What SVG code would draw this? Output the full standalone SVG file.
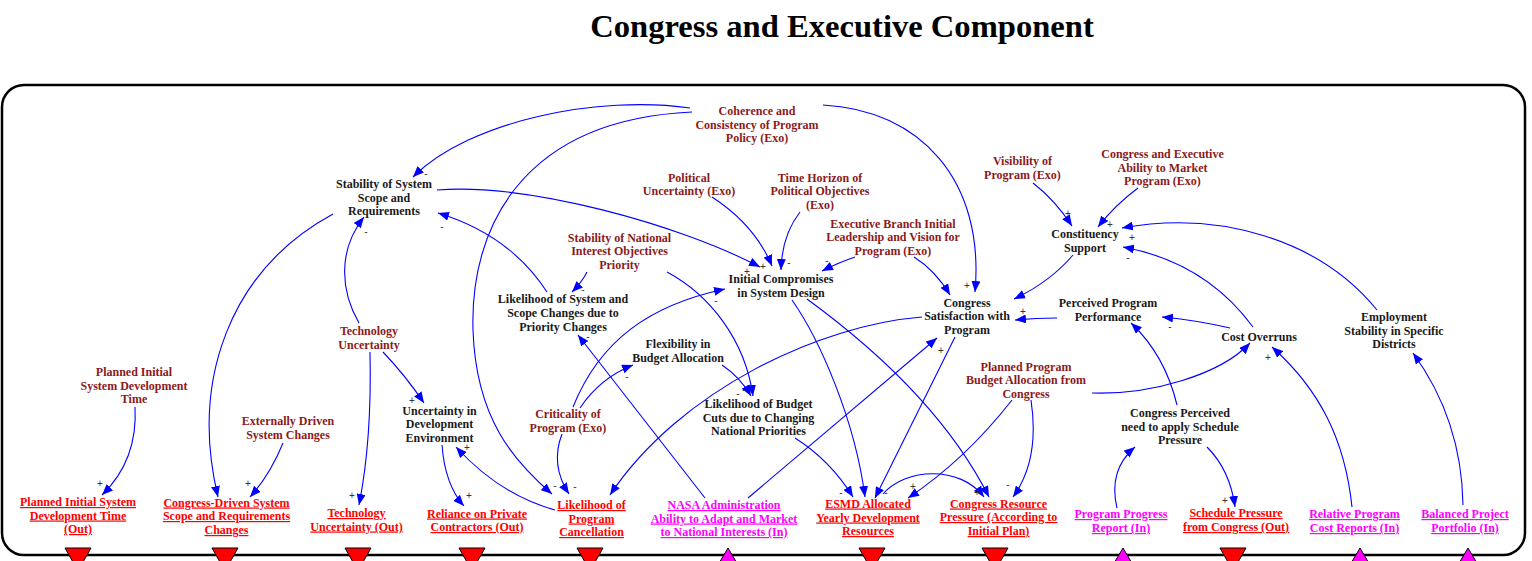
<svg xmlns="http://www.w3.org/2000/svg" width="1532" height="561" viewBox="0 0 1532 561">
<defs>
<style>
text{font-family:"Liberation Serif","Times New Roman",serif;font-weight:bold;font-size:12px;text-anchor:middle}
.title{font-size:32.6px;fill:#000}
.v{fill:#1a1a1a}
.x{fill:#8b1a1a}
.o{fill:#ff0000;text-decoration:underline;text-decoration-thickness:2px}
.i{fill:#ff00ff;text-decoration:underline;text-decoration-thickness:2px}
.c path{fill:none;stroke:#0000ff;stroke-width:1.1;marker-end:url(#ah)}
.p text{font-family:"Liberation Sans",Arial,sans-serif;font-weight:normal;font-size:10px;fill:#333}
.tri-o{fill:#ff0000;stroke:#000;stroke-width:1}
.tri-i{fill:#ff00ff;stroke:#000;stroke-width:1}
</style>
<marker id="ah" markerUnits="userSpaceOnUse" markerWidth="12" markerHeight="9" refX="11" refY="4.5" orient="auto">
<path d="M0,0 L11,4.5 L0,9 z" fill="#0000ff"/>
</marker>
</defs>
<rect width="1532" height="561" fill="#fff"/>
<text class="title" x="842" y="37">Congress and Executive Component</text>
<rect x="2" y="85" width="1523" height="470" rx="22" ry="22" fill="none" stroke="#000" stroke-width="2.5"/>

<g class="c" id="connectors">
<path d="M690,108 C600,95 470,120 413,177"/>
<path d="M692,112 C520,120 470,230 473,330 C476,420 515,462 552,494"/>
<path d="M823,105 C920,110 985,180 975,292"/>
<path d="M437,190 C530,183 680,225 760,267"/>
<path d="M712,197 Q755,225 772,266"/>
<path d="M800,212 Q782,235 781,270"/>
<path d="M855,257 Q840,262 822,271"/>
<path d="M914,257 Q935,270 950,295"/>
<path d="M587,272 Q582,282 572,292"/>
<path d="M667,272 C710,295 745,340 753,396"/>
<path d="M722,365 Q740,377 751,396"/>
<path d="M547,292 Q510,235 438,213"/>
<path d="M333,214 C230,270 190,380 218,497"/>
<path d="M359,323 C340,290 338,250 364,217"/>
<path d="M370,352 Q372,440 359,505"/>
<path d="M383,352 Q405,375 424,403"/>
<path d="M135,407 Q138,460 102,495"/>
<path d="M283,443 Q270,475 250,497"/>
<path d="M442,445 Q445,485 464,506"/>
<path d="M555,510 Q500,495 456,447"/>
<path d="M562,434 Q550,465 569,494"/>
<path d="M573,407 C600,340 650,305 725,289"/>
<path d="M580,408 Q600,378 633,365"/>
<path d="M705,498 L578,335"/>
<path d="M748,498 L937,338"/>
<path d="M955,337 L875,498"/>
<path d="M922,317 C820,325 680,390 610,495"/>
<path d="M792,300 C820,340 855,420 865,497"/>
<path d="M807,299 C870,345 945,410 989,497"/>
<path d="M795,438 Q830,460 853,497"/>
<path d="M1012,400 Q965,460 908,498"/>
<path d="M1031,400 Q1040,460 1013,497"/>
<path d="M883,494 C905,468 960,465 984,497"/>
<path d="M1092,393 C1150,395 1220,375 1250,343"/>
<path d="M1352,507 C1345,440 1320,390 1272,347"/>
<path d="M1463,505 C1462,440 1440,390 1413,353"/>
<path d="M1377,310 C1320,240 1220,210 1122,228"/>
<path d="M1253,327 Q1205,262 1123,247"/>
<path d="M1230,328 Q1195,320 1162,317"/>
<path d="M1057,318 Q1035,318 1015,320"/>
<path d="M1073,255 Q1050,282 1014,299"/>
<path d="M1033,183 Q1055,200 1072,226"/>
<path d="M1138,188 Q1115,205 1098,227"/>
<path d="M1117,508 Q1108,470 1135,447"/>
<path d="M1177,405 Q1165,355 1131,323"/>
<path d="M1207,447 Q1230,470 1235,507"/>
</g>

<g class="p" id="polarities">
<text x="426" y="177">-</text>
<text x="555" y="489">-</text>
<text x="967" y="289">+</text>
<text x="747" y="275">+</text>
<text x="763" y="270">+</text>
<text x="789" y="266">-</text>
<text x="827" y="264">-</text>
<text x="583" y="293">-</text>
<text x="744" y="393">-</text>
<text x="738" y="397">-</text>
<text x="442" y="230">-</text>
<text x="366" y="235">-</text>
<text x="352" y="499">+</text>
<text x="412" y="404">+</text>
<text x="100" y="487">+</text>
<text x="248" y="487">+</text>
<text x="469" y="499">+</text>
<text x="467" y="451">+</text>
<text x="575" y="490">-</text>
<text x="716" y="304">-</text>
<text x="627" y="380">-</text>
<text x="588" y="340">-</text>
<text x="941" y="354">+</text>
<text x="841" y="496">-</text>
<text x="886" y="496">-</text>
<text x="913" y="490">+</text>
<text x="977" y="496">+</text>
<text x="1008" y="488">-</text>
<text x="1132" y="241">+</text>
<text x="1128" y="261">-</text>
<text x="1170" y="330">-</text>
<text x="1023" y="315">+</text>
<text x="1068" y="217">+</text>
<text x="1110" y="228">+</text>
<text x="1268" y="361">+</text>
<text x="1225" y="504">+</text>
</g>

<g id="stability-system"><text class="v" x="384" y="188"><tspan x="384" y="188">Stability of System</tspan><tspan x="384" y="202">Scope and</tspan><tspan x="384" y="215">Requirements</tspan></text></g>
<g id="coherence"><text class="x" x="757" y="115"><tspan x="757" y="115">Coherence and</tspan><tspan x="757" y="128.5">Consistency of Program</tspan><tspan x="757" y="142">Policy (Exo)</tspan></text></g>
<g id="political-uncertainty"><text class="x" x="689" y="181.5"><tspan x="689" y="181.5">Political</tspan><tspan x="689" y="195">Uncertainty (Exo)</tspan></text></g>
<g id="time-horizon"><text class="x" x="820" y="181.5"><tspan x="820" y="181.5">Time Horizon of</tspan><tspan x="820" y="195">Political Objectives</tspan><tspan x="820" y="208.5">(Exo)</tspan></text></g>
<g id="executive-branch"><text class="x" x="893" y="227.5"><tspan x="893" y="227.5">Executive Branch Initial</tspan><tspan x="893" y="241">Leadership and Vision for</tspan><tspan x="893" y="254.5">Program (Exo)</tspan></text></g>
<g id="visibility"><text class="x" x="1022.5" y="165"><tspan x="1022.5" y="165">Visibility of</tspan><tspan x="1022.5" y="179">Program (Exo)</tspan></text></g>
<g id="ability-market"><text class="x" x="1162.5" y="157.5"><tspan x="1162.5" y="157.5">Congress and Executive</tspan><tspan x="1162.5" y="171.5">Ability to Market</tspan><tspan x="1162.5" y="185">Program (Exo)</tspan></text></g>
<g id="constituency"><text class="v" x="1085" y="238"><tspan x="1085" y="238">Constituency</tspan><tspan x="1085" y="251.5">Support</tspan></text></g>
<g id="stability-national"><text class="x" x="619.5" y="241.5"><tspan x="619.5" y="241.5">Stability of National</tspan><tspan x="619.5" y="255">Interest Objectives</tspan><tspan x="619.5" y="268.5">Priority</tspan></text></g>
<g id="initial-compromises"><text class="v" x="781" y="282.5"><tspan x="781" y="282.5">Initial Compromises</tspan><tspan x="781" y="296.5">in System Design</tspan></text></g>
<g id="likelihood-scope"><text class="v" x="563" y="303"><tspan x="563" y="303">Likelihood of System and</tspan><tspan x="563" y="317">Scope Changes due to</tspan><tspan x="563" y="330.5">Priority Changes</tspan></text></g>
<g id="congress-satisfaction"><text class="v" x="967" y="306.5"><tspan x="967" y="306.5">Congress</tspan><tspan x="967" y="320">Satisfaction with</tspan><tspan x="967" y="333.5">Program</tspan></text></g>
<g id="perceived-performance"><text class="v" x="1108" y="306.5"><tspan x="1108" y="306.5">Perceived Program</tspan><tspan x="1108" y="320.5">Performance</tspan></text></g>
<g id="cost-overruns"><text class="v" x="1259" y="340.5">Cost Overruns</text></g>
<g id="employment"><text class="v" x="1394" y="320.5"><tspan x="1394" y="320.5">Employment</tspan><tspan x="1394" y="334.5">Stability in Specific</tspan><tspan x="1394" y="348">Districts</tspan></text></g>
<g id="technology-uncertainty"><text class="x" x="369" y="335"><tspan x="369" y="335">Technology</tspan><tspan x="369" y="348.5">Uncertainty</tspan></text></g>
<g id="planned-initial"><text class="x" x="134" y="376"><tspan x="134" y="376">Planned Initial</tspan><tspan x="134" y="389.5">System Development</tspan><tspan x="134" y="403">Time</tspan></text></g>
<g id="externally-driven"><text class="x" x="288" y="425"><tspan x="288" y="425">Externally Driven</tspan><tspan x="288" y="439">System Changes</tspan></text></g>
<g id="uncertainty-dev"><text class="v" x="439.5" y="414.5"><tspan x="439.5" y="414.5">Uncertainty in</tspan><tspan x="439.5" y="428">Development</tspan><tspan x="439.5" y="441.5">Environment</tspan></text></g>
<g id="flexibility"><text class="v" x="678" y="347.5"><tspan x="678" y="347.5">Flexibility in</tspan><tspan x="678" y="361.5">Budget Allocation</tspan></text></g>
<g id="criticality"><text class="x" x="568" y="418"><tspan x="568" y="418">Criticality of</tspan><tspan x="568" y="431.5">Program (Exo)</tspan></text></g>
<g id="budget-cuts"><text class="v" x="758.5" y="407.5"><tspan x="758.5" y="407.5">Likelihood of Budget</tspan><tspan x="758.5" y="421.5">Cuts due to Changing</tspan><tspan x="758.5" y="435">National Priorities</tspan></text></g>
<g id="planned-program"><text class="x" x="1026" y="370.5"><tspan x="1026" y="370.5">Planned Program</tspan><tspan x="1026" y="384">Budget Allocation from</tspan><tspan x="1026" y="397.5">Congress</tspan></text></g>
<g id="congress-perceived"><text class="v" x="1180" y="417"><tspan x="1180" y="417">Congress Perceived</tspan><tspan x="1180" y="430.5">need to apply Schedule</tspan><tspan x="1180" y="444">Pressure</tspan></text></g>

<g id="out-planned-initial"><text class="o" x="78" y="506"><tspan x="78" y="506">Planned Initial System</tspan><tspan x="78" y="519.5">Development Time</tspan><tspan x="78" y="533">(Out)</tspan></text><polygon class="tri-o" points="65,548 91,548 78,571"/></g>
<g id="out-congress-driven"><text class="o" x="226.5" y="506.5"><tspan x="226.5" y="506.5">Congress-Driven System</tspan><tspan x="226.5" y="520">Scope and Requirements</tspan><tspan x="226.5" y="534">Changes</tspan></text><polygon class="tri-o" points="212,548 238,548 225,571"/></g>
<g id="out-technology"><text class="o" x="356.5" y="517"><tspan x="356.5" y="517">Technology</tspan><tspan x="356.5" y="530.5">Uncertainty (Out)</tspan></text><polygon class="tri-o" points="345,548 371,548 358,571"/></g>
<g id="out-reliance"><text class="o" x="477" y="517.5"><tspan x="477" y="517.5">Reliance on Private</tspan><tspan x="477" y="531">Contractors (Out)</tspan></text><polygon class="tri-o" points="459,548 485,548 472,571"/></g>
<g id="out-cancellation"><text class="o" x="591.5" y="509"><tspan x="591.5" y="509">Likelihood of</tspan><tspan x="591.5" y="522.5">Program</tspan><tspan x="591.5" y="536">Cancellation</tspan></text><polygon class="tri-o" points="577,548 603,548 590,571"/></g>
<g id="in-nasa"><text class="i" x="724" y="509"><tspan x="724" y="509">NASA Administration</tspan><tspan x="724" y="522.5">Ability to Adapt and Market</tspan><tspan x="724" y="536">to National Interests (In)</tspan></text><polygon class="tri-i" points="728,548 715,570 741,570"/></g>
<g id="out-esmd"><text class="o" x="868" y="507.5"><tspan x="868" y="507.5">ESMD Allocated</tspan><tspan x="868" y="521.5">Yearly Development</tspan><tspan x="868" y="535">Resources</tspan></text><polygon class="tri-o" points="859,548 885,548 872,571"/></g>
<g id="out-resource-pressure"><text class="o" x="998.5" y="507.5"><tspan x="998.5" y="507.5">Congress Resource</tspan><tspan x="998.5" y="521">Pressure (According to</tspan><tspan x="998.5" y="535">Initial Plan)</tspan></text><polygon class="tri-o" points="982,548 1008,548 995,571"/></g>
<g id="in-progress-report"><text class="i" x="1121" y="518"><tspan x="1121" y="518">Program Progress</tspan><tspan x="1121" y="532">Report (In)</tspan></text><polygon class="tri-i" points="1123,548 1110,570 1136,570"/></g>
<g id="out-schedule"><text class="o" x="1236" y="517"><tspan x="1236" y="517">Schedule Pressure</tspan><tspan x="1236" y="531">from Congress (Out)</tspan></text><polygon class="tri-o" points="1220,548 1246,548 1233,571"/></g>
<g id="in-cost-reports"><text class="i" x="1354.5" y="518"><tspan x="1354.5" y="518">Relative Program</tspan><tspan x="1354.5" y="532">Cost Reports (In)</tspan></text><polygon class="tri-i" points="1360,548 1347,570 1373,570"/></g>
<g id="in-portfolio"><text class="i" x="1465" y="518"><tspan x="1465" y="518">Balanced Project</tspan><tspan x="1465" y="532">Portfolio (In)</tspan></text><polygon class="tri-i" points="1468,548 1455,570 1481,570"/></g>
</svg>
